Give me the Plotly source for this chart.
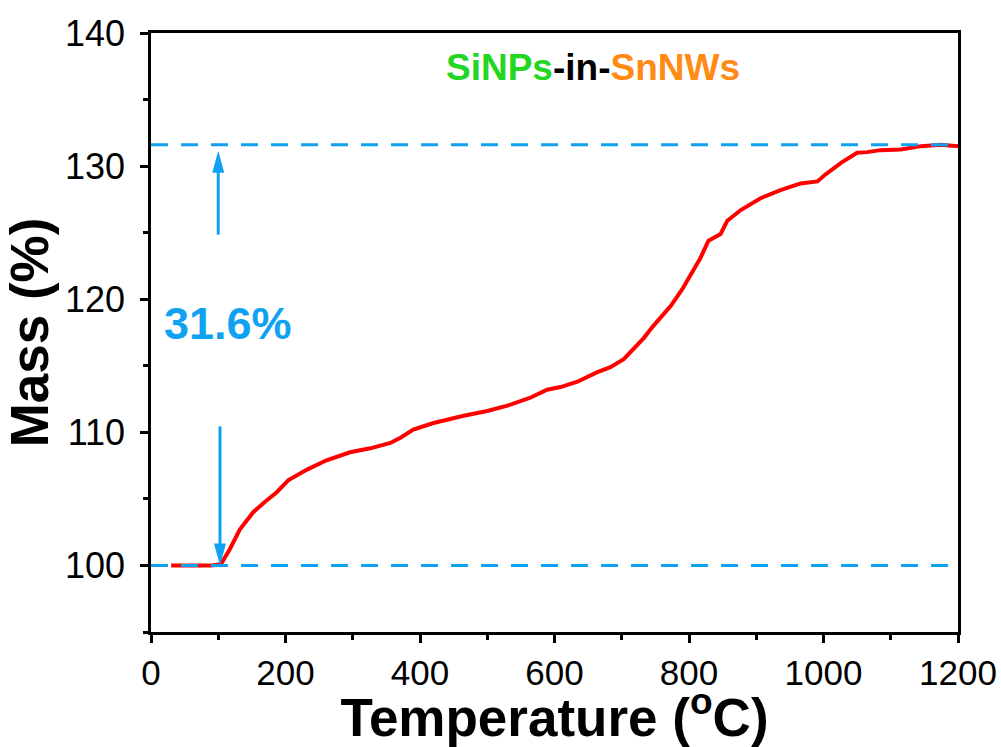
import plotly.graph_objects as go

# ---- data ----
temperature = [30, 45, 60, 75, 90, 104, 117, 132, 152, 170, 187, 204, 232, 261, 296, 326, 356,
               371, 390, 420, 465, 500, 530, 564, 589, 609, 634, 663, 683, 703, 720, 733, 747,
               773, 790, 805, 817, 829, 847, 857, 877, 907, 936, 966, 991, 1001, 1026, 1050,
               1065, 1085, 1115, 1145, 1175, 1200]
mass = [100.0, 100.0, 99.95, 99.97, 100.0, 100.1, 101.2, 102.7, 104.0, 104.8, 105.5, 106.4,
        107.2, 107.9, 108.5, 108.8, 109.2, 109.6, 110.2, 110.7, 111.25, 111.6, 112.0, 112.6,
        113.2, 113.4, 113.8, 114.5, 114.9, 115.5, 116.4, 117.1, 118.0, 119.5, 120.75, 122.0,
        123.1, 124.4, 124.9, 125.9, 126.7, 127.6, 128.2, 128.7, 128.85, 129.3, 130.25, 131.0,
        131.05, 131.2, 131.25, 131.5, 131.6, 131.5]

baseline_level = 100.0
final_level = 131.6
gain_label = "31.6%"
x_ticks = [0, 200, 400, 600, 800, 1000, 1200]
y_ticks = [100, 110, 120, 130, 140]

# annotation geometry (data units)
up_arrow_x, up_tail, up_tip = 100, 124.85, 131.15
down_arrow_x, down_tail, down_tip = 102.6, 110.45, 100.0

BLUE = "#0FA2F2"
FONT = "Liberation Sans, Arial, sans-serif"

fig = go.Figure()
fig.add_trace(go.Scatter(x=temperature, y=mass, mode="lines",
                         line=dict(color="#FF0000", width=4), showlegend=False))

shapes = []
for lvl in (baseline_level, final_level):
    shapes.append(dict(type="line", xref="paper", yref="y", x0=0, x1=1, y0=lvl, y1=lvl,
                       line=dict(color=BLUE, width=3, dash="17px,13px"), layer="above"))
# arrow shafts
shapes.append(dict(type="line", xref="x", yref="y", x0=up_arrow_x, x1=up_arrow_x,
                   y0=up_tail, y1=up_tip - 1.2, line=dict(color=BLUE, width=3)))
shapes.append(dict(type="line", xref="x", yref="y", x0=down_arrow_x, x1=down_arrow_x,
                   y0=down_tail, y1=down_tip + 1.2, line=dict(color=BLUE, width=3)))
# arrow heads (pixel-sized triangles anchored at tips)
shapes.append(dict(type="path", xref="x", yref="y", xsizemode="pixel", ysizemode="pixel",
                   xanchor=up_arrow_x, yanchor=up_tip, path="M 0 0 L -6 -22 L 6 -22 Z",
                   fillcolor=BLUE, line=dict(color=BLUE, width=0)))
shapes.append(dict(type="path", xref="x", yref="y", xsizemode="pixel", ysizemode="pixel",
                   xanchor=down_arrow_x, yanchor=down_tip, path="M 0 0 L -6 22 L 6 22 Z",
                   fillcolor=BLUE, line=dict(color=BLUE, width=0)))

annotations = [
    dict(x=115, y=118.2, xref="x", yref="y", text=f"<b>{gain_label}</b>", showarrow=False,
         font=dict(family=FONT, size=45, color=BLUE)),
    dict(x=0.548, y=137.4, xref="paper", yref="y",
         text="<b><span style='color:#22D622'>SiNPs</span>-in-"
              "<span style='color:#FF8A14'>SnNWs</span></b>",
         showarrow=False, font=dict(family=FONT, size=37, color="#000000")),
]

axis_common = dict(showgrid=False, zeroline=False, showline=True, linecolor="black",
                   linewidth=2.5, mirror=True, ticks="outside", ticklen=8, tickwidth=2.5,
                   tickcolor="black", automargin=False)

fig.update_layout(
    width=1001, height=747,
    margin=dict(l=151, r=43, t=33, b=115),
    plot_bgcolor="white", paper_bgcolor="white",
    shapes=shapes, annotations=annotations,
    xaxis=dict(range=[0, 1200], tickvals=x_ticks, ticklabelstandoff=0,
               tickfont=dict(family=FONT, size=35, color="black"),
               minor=dict(dtick=100, tick0=0, ticks="outside", ticklen=5, tickwidth=2.5,
                          tickcolor="black"),
               title=dict(text="<b>Temperature (<sup>o</sup>C)</b>",
                          font=dict(family=FONT, size=53, color="black"), standoff=14),
               **axis_common),
    yaxis=dict(range=[95, 140], tickvals=y_ticks, ticklabelstandoff=8,
               tickfont=dict(family=FONT, size=36, color="black"),
               minor=dict(dtick=5, tick0=95, ticks="outside", ticklen=5, tickwidth=2.5,
                          tickcolor="black"),
               title=dict(text="<b>Mass (%)</b>",
                          font=dict(family=FONT, size=53, color="black"), standoff=4),
               **axis_common),
)

fig.write_html("out.html")
